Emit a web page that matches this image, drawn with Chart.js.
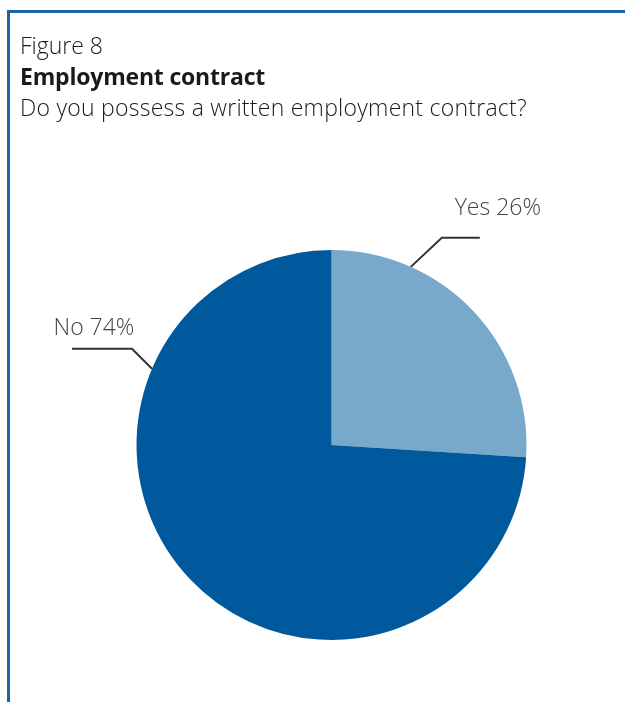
<!DOCTYPE html>
<html lang="en">
<head>
    <meta charset="UTF-8">
    <title>Figure 8 - Employment contract</title>
    <script src="https://cdn.jsdelivr.net/npm/chart.js"></script>
    <style>
        html, body {
            margin: 0;
            padding: 0;
            background: #fff;
        }

        .quadro {
            position: relative;
            width: 625px;
            height: 702px;
            overflow: hidden;
        }

        .borda {
            position: absolute;
            left: 7px;
            top: 10px;
            right: -5px;
            bottom: -5px;
            border-top: 3px solid #1d64a6;
            border-left: 3px solid #1d64a6;
        }

        .titulos {
            position: absolute;
            left: 20px;
            top: 30px;
            font-family: "Open Sans", sans-serif;
            font-weight: 300;
            font-size: 23px;
            color: #1a1a1a;
            line-height: 31px;
            z-index: 2;
        }

        .titulos b {
            font-weight: 700;
            letter-spacing: -0.2px;
        }

        .titulos .pergunta {
            letter-spacing: 0.25px;
        }

        canvas {
            position: absolute;
            left: 0;
            top: 0;
        }
    </style>
</head>
<body>

<div class="quadro">
    <div class="borda"></div>
    <div class="titulos">
        <div>Figure 8</div>
        <div><b>Employment contract</b></div>
        <div class="pergunta">Do you possess a written employment contract?</div>
    </div>
    <canvas id="grafico" width="625" height="702"></canvas>
</div>

<script>
    const categorias = ["Yes", "No"];
    const valores = [26, 74];
    const cores = ["#78a8ca", "#00599c"];

    // linhas de chamada: angulo no circulo (graus a partir do topo), cotovelo e texto
    const chamadas = [
        { angulo: 24, cotovelo: [31, -29], reta: 38, texto: [18, -23] },
        { angulo: 293, cotovelo: [-20, -20], reta: -60, texto: [22, -14] }
    ];

    const pluginChamadas = {
        id: "chamadas",
        afterDatasetsDraw(chart) {
            const ctx = chart.ctx;
            const arcos = chart.getDatasetMeta(0).data;
            ctx.save();
            arcos.forEach((arco, i) => {
                const c = chamadas[i];
                const a = c.angulo * Math.PI / 180;
                const x0 = arco.x + arco.outerRadius * Math.sin(a);
                const y0 = arco.y - arco.outerRadius * Math.cos(a);
                const x1 = x0 + c.cotovelo[0];
                const y1 = y0 + c.cotovelo[1];
                const x2 = x1 + c.reta;
                ctx.strokeStyle = "#333";
                ctx.lineWidth = 2;
                ctx.beginPath();
                ctx.moveTo(x0, y0);
                ctx.lineTo(x1, y1);
                ctx.lineTo(x2, y1);
                ctx.stroke();

                ctx.fillStyle = "#444";
                ctx.font = "300 23px 'Open Sans', sans-serif";
                ctx.textAlign = "center";
                ctx.textBaseline = "alphabetic";
                ctx.fillText(categorias[i] + " " + valores[i] + "%", x2 + c.texto[0], y1 + c.texto[1]);
            });
            ctx.restore();
        }
    };

    new Chart(document.getElementById("grafico"), {
        type: "pie",
        data: {
            labels: categorias,
            datasets: [{
                data: valores,
                backgroundColor: cores,
                borderWidth: 0
            }]
        },
        options: {
            responsive: false,
            animation: false,
            layout: {
                padding: { left: 136, right: 98, top: 250, bottom: 62 }
            },
            plugins: {
                legend: { display: false },
                tooltip: { enabled: false }
            }
        },
        plugins: [pluginChamadas]
    });
</script>

</body>
</html>
